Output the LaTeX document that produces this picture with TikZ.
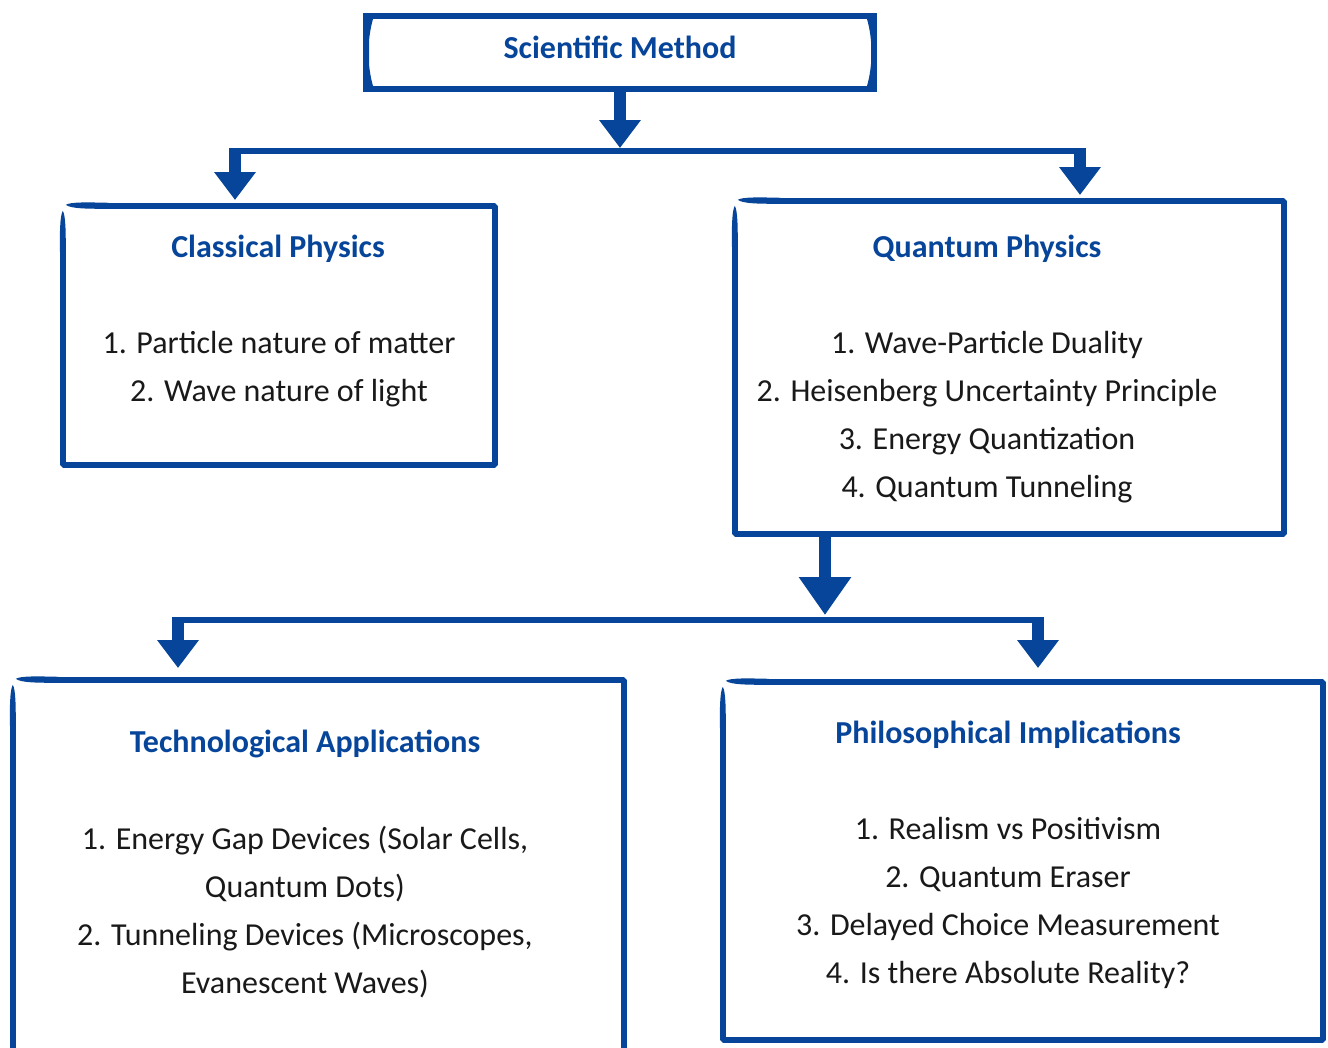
\documentclass[tikz,border=0pt]{standalone}
\usepackage{fontspec}
\setmainfont{Carlito}
\usetikzlibrary{arrows.meta,calc}
\definecolor{methodblue}{RGB}{6,69,153}
\definecolor{bodytext}{RGB}{25,25,25}

% hand-drawn border: bevelled corners, tapered strokes at the top left
\newcommand{\sketchframe}[1]{%
  \draw[border] ($(#1.north west)+(44,0)$) -- (#1.north east) -- (#1.south east)
    -- (#1.south west) -- ($(#1.north west)+(0,44)$);
  \fill[methodblue] ($(#1.north west)+(3,-1)$) .. controls ($(#1.north west)+(8,-4)$) and ($(#1.north west)+(25,-3.5)$) .. ($(#1.north west)+(46,-3)$)
    -- ($(#1.north west)+(46,3)$) .. controls ($(#1.north west)+(25,3)$) and ($(#1.north west)+(8,3)$) .. ($(#1.north west)+(3,-1)$) -- cycle;
  \fill[methodblue] ($(#1.north west)+(0,5)$) .. controls ($(#1.north west)+(-3,10)$) and ($(#1.north west)+(-3,28)$) .. ($(#1.north west)+(-3,46)$)
    -- ($(#1.north west)+(3,46)$) .. controls ($(#1.north west)+(3,28)$) and ($(#1.north west)+(3,10)$) .. ($(#1.north west)+(0,5)$) -- cycle;
}

\begin{document}
\begin{tikzpicture}[x=1pt, y=-1pt,
  frame/.style={draw=methodblue, line width=6pt, inner sep=0pt, fill=white},
  panel/.style={inner sep=0pt, fill=white},
  border/.style={methodblue, line width=6pt, line join=bevel},
  heading/.style={text=methodblue, font=\fontsize{32}{38}\selectfont\bfseries},
  items/.style={text=bodytext, align=center, font=\fontsize{32}{48}\selectfont},
  link/.style={methodblue, line width=6pt},
  drop/.style={methodblue, line width=12pt, -{Triangle[width=40pt,length=28pt]}},
  bigdrop/.style={methodblue, line width=12pt, -{Triangle[width=50pt,length=38pt]}}]
\useasboundingbox (0,0) rectangle (1328,1047);

% boxes
\node[frame, minimum width=508pt, minimum height=73pt] (method) at (620,52.5) {};
\fill[methodblue] (369,19) -- (373,19) .. controls (367,40) and (367,65) .. (373,86) -- (369,86) -- cycle;
\fill[methodblue] (871,19) -- (867,19) .. controls (873,40) and (873,65) .. (867,86) -- (871,86) -- cycle;
\node[panel, minimum width=432pt, minimum height=259pt] (classical) at (279,335.5) {};
\node[panel, minimum width=549pt, minimum height=333pt] (quantum) at (1009.5,367.5) {};
\node[panel, minimum width=611pt, minimum height=390pt] (techapp) at (318.5,875) {};
\node[panel, minimum width=600pt, minimum height=358pt] (philo) at (1023,861) {};
\sketchframe{classical}
\sketchframe{quantum}
\sketchframe{techapp}
\sketchframe{philo}

% headings
\node[heading] (methodtitle) at (620,47) {Scientific Method};
\node[heading] (classicaltitle) at (278,249) {Classical Physics};
\node[heading] (quantumtitle) at (987,249) {Quantum Physics};
\node[heading] (techtitle) at (305,744) {Technological Applications};
\node[heading] (philotitle) at (1008,735) {Philosophical Implications};

% lists
\node[items] (classicallist) at (279,369) {1. Particle nature of matter\\2. Wave nature of light};
\node[items] (quantumlist) at (987,417) {1. Wave-Particle Duality\\2. Heisenberg Uncertainty Principle\\3. Energy Quantization\\4. Quantum Tunneling};
\node[items] (techlist) at (305,912) {1. Energy Gap Devices (Solar Cells,\\Quantum Dots)\\2. Tunneling Devices (Microscopes,\\Evanescent Waves)};
\node[items] (philolist) at (1008,903) {1. Realism vs Positivism\\2. Quantum Eraser\\3. Delayed Choice Measurement\\4. Is there Absolute Reality?};

% upper split
\coordinate (topfork) at (620,148);
\coordinate (topbarW) at (229,151);
\coordinate (topbarE) at (1086,151);
\coordinate (classicaltip) at (235,200);
\coordinate (quantumtip) at (1080,195);
\draw[drop] (method.south) -- (topfork);
\draw[link] (topbarW) -- (topbarE);
\draw[drop] (235,148) -- (classicaltip);
\draw[drop] (1080,148) -- (quantumtip);

% lower split
\coordinate (lowfork) at (825,615);
\coordinate (lowbarW) at (172,620);
\coordinate (lowbarE) at (1044,620);
\coordinate (techtip) at (178,668);
\coordinate (philotip) at (1038,668);
\draw[bigdrop] (lowfork |- quantum.south) -- (lowfork);
\draw[link] (lowbarW) -- (lowbarE);
\draw[drop] (178,617) -- (techtip);
\draw[drop] (1038,617) -- (philotip);
\end{tikzpicture}
\end{document}
